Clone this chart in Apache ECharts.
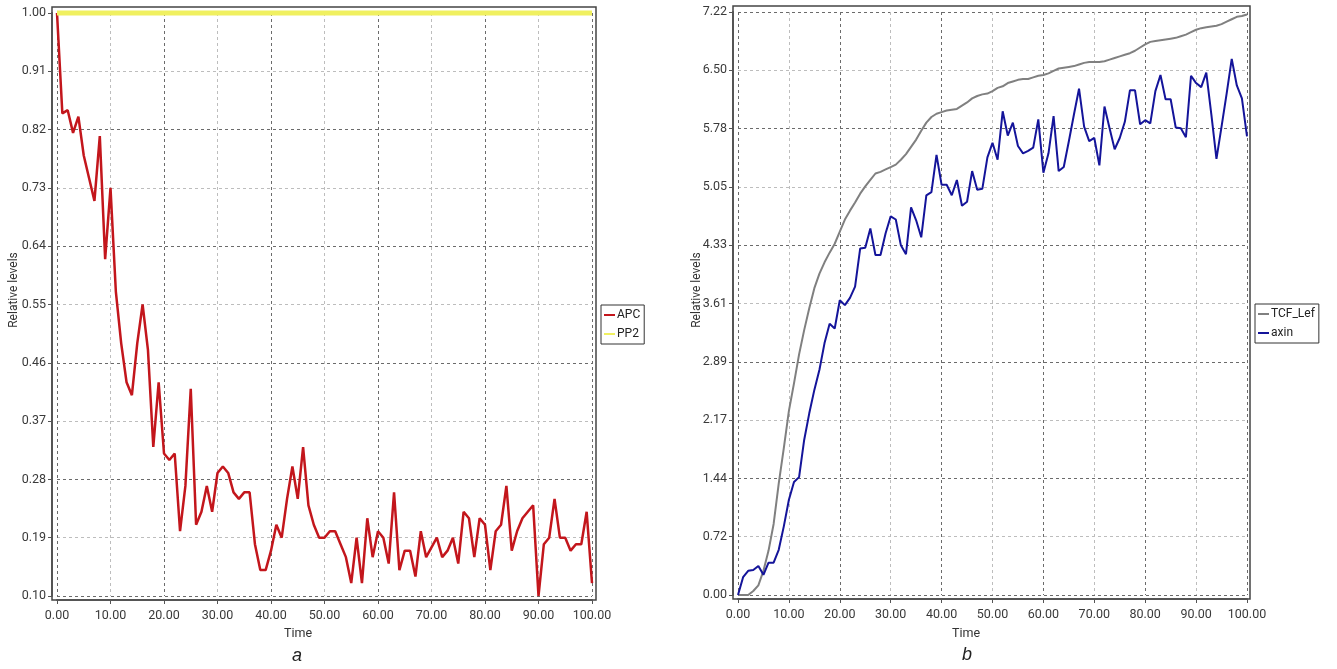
<!DOCTYPE html>
<html>
<head>
<meta charset="utf-8">
<script src="https://cdn.jsdelivr.net/npm/echarts@6/dist/echarts.min.js"></script>
<style>
html, body { margin: 0; padding: 0; background: #fff; }
#chart { width: 1337px; height: 669px; }
</style>
</head>
<body>
<div id="chart"></div>
<script>
// time steps 0..100 (one sample per time unit)
var timeSteps = [];
for (var i = 0; i <= 100; i++) timeSteps.push(i);

// panel a
var apcValues = [1.00, 0.845, 0.85, 0.815, 0.84, 0.78, 0.745, 0.71, 0.81, 0.62,
  0.73, 0.57, 0.49, 0.43, 0.41, 0.49, 0.55, 0.48, 0.33, 0.43,
  0.32, 0.31, 0.32, 0.20, 0.27, 0.42, 0.21, 0.23, 0.27, 0.23,
  0.29, 0.30, 0.29, 0.26, 0.25, 0.26, 0.26, 0.18, 0.14, 0.14,
  0.17, 0.21, 0.19, 0.25, 0.30, 0.25, 0.33, 0.24, 0.21, 0.19,
  0.19, 0.20, 0.20, 0.18, 0.16, 0.12, 0.19, 0.12, 0.22, 0.16,
  0.20, 0.19, 0.15, 0.26, 0.14, 0.17, 0.17, 0.13, 0.20, 0.16,
  0.175, 0.19, 0.16, 0.17, 0.19, 0.15, 0.23, 0.22, 0.16, 0.22,
  0.21, 0.14, 0.20, 0.21, 0.27, 0.17, 0.20, 0.22, 0.23, 0.24,
  0.10, 0.18, 0.19, 0.25, 0.19, 0.19, 0.17, 0.18, 0.18, 0.23,
  0.12];
var pp2Times = [0, 100];
var pp2Values = [1.00, 1.00];

// panel b
var tcfValues = [0, 0, 0, 0.05, 0.12, 0.3, 0.55, 0.88, 1.38, 1.82,
  2.28, 2.62, 2.98, 3.28, 3.55, 3.8, 3.98, 4.12, 4.24, 4.35,
  4.5, 4.65, 4.76, 4.86, 4.97, 5.06, 5.14, 5.22, 5.24, 5.27,
  5.3, 5.33, 5.39, 5.46, 5.55, 5.64, 5.75, 5.85, 5.92, 5.96,
  5.98, 6.0, 6.01, 6.02, 6.06, 6.1, 6.15, 6.18, 6.2, 6.21,
  6.24, 6.28, 6.3, 6.34, 6.36, 6.38, 6.39, 6.39, 6.41, 6.43,
  6.44, 6.46, 6.49, 6.52, 6.53, 6.54, 6.55, 6.57, 6.59, 6.6,
  6.6, 6.6, 6.61, 6.63, 6.65, 6.67, 6.69, 6.71, 6.74, 6.78,
  6.82, 6.85, 6.86, 6.87, 6.88, 6.89, 6.9, 6.92, 6.94, 6.97,
  7.0, 7.02, 7.03, 7.04, 7.05, 7.07, 7.1, 7.13, 7.16, 7.17,
  7.19];
var axinValues = [0, 0.22, 0.30, 0.31, 0.36, 0.25, 0.40, 0.40, 0.56, 0.85,
  1.18, 1.40, 1.46, 1.92, 2.25, 2.54, 2.79, 3.12, 3.36, 3.30,
  3.65, 3.59, 3.68, 3.82, 4.29, 4.30, 4.54, 4.21, 4.21, 4.48,
  4.69, 4.65, 4.33, 4.22, 4.80, 4.64, 4.43, 4.95, 4.99, 5.45,
  5.08, 5.08, 4.95, 5.14, 4.82, 4.87, 5.25, 5.02, 5.03, 5.42,
  5.60, 5.39, 5.99, 5.69, 5.85, 5.56, 5.47, 5.50, 5.54, 5.89,
  5.23, 5.47, 5.93, 5.25, 5.30, 5.62, 5.95, 6.27, 5.80, 5.62,
  5.66, 5.32, 6.05, 5.78, 5.52, 5.66, 5.86, 6.25, 6.25, 5.83,
  5.88, 5.84, 6.24, 6.44, 6.14, 6.14, 5.79, 5.78, 5.67, 6.43,
  6.34, 6.29, 6.47, 5.95, 5.40, 5.80, 6.21, 6.64, 6.31, 6.15,
  5.68];

function pairs(xs, ys) {
  return ys.map(function (v, k) { return [xs[k], v]; });
}

var font = 'Roboto';
var labelStyle = { fontFamily: font, fontSize: 12.5, color: '#3a3a3a' };
var darkGrid = '#6b6b6b';
var lightGrid = '#bdbdbd';

function dataXAxis(gridIndex) {
  return {
    type: 'value', gridIndex: gridIndex, min: 0, max: 100, interval: 10, offset: 4,
    axisLine: { show: true, onZero: false, lineStyle: { color: '#555', width: 2 } },
    axisTick: { show: true, length: 4, lineStyle: { color: '#555' } },
    axisLabel: Object.assign({ margin: 9, formatter: function (v) { return v.toFixed(2); } }, labelStyle),
    splitLine: { show: true, lineStyle: { type: [3, 3], width: 1, color: [darkGrid, lightGrid] } }
  };
}
function dataYAxis(gridIndex, min, max, interval) {
  return {
    type: 'value', gridIndex: gridIndex, min: min, max: max, interval: interval, offset: 5,
    axisLine: { show: true, onZero: false, lineStyle: { color: '#555', width: 2 } },
    axisTick: { show: true, length: 4, lineStyle: { color: '#555' } },
    axisLabel: Object.assign({ margin: 6, formatter: function (v) { return v.toFixed(2); } }, labelStyle),
    splitLine: { show: true, lineStyle: { type: [3, 3], width: 1, color: [darkGrid, lightGrid] } }
  };
}
function hiddenAxis(gridIndex) {
  return { type: 'value', gridIndex: gridIndex, show: false, min: 0, max: 1, splitLine: { show: false } };
}

var legendBase = {
  orient: 'vertical', icon: 'rect', itemWidth: 11, itemHeight: 2, itemGap: 7,
  padding: [4, 4, 4, 3], borderColor: '#333', borderWidth: 1, selectedMode: false,
  textStyle: { fontFamily: font, fontSize: 12, color: '#222', padding: [0, 0, 0, -3] }
};

var chart = echarts.init(document.getElementById('chart'));
chart.setOption({
  animation: false,
  backgroundColor: '#fff',
  grid: [
    { left: 52, top: 7, right: 741, bottom: 69, show: true, borderColor: '#444', borderWidth: 1.5, backgroundColor: 'transparent' },
    { left: 57, top: 13, right: 745, bottom: 73 },
    { left: 733, top: 6, right: 87, bottom: 70, show: true, borderColor: '#444', borderWidth: 1.5, backgroundColor: 'transparent' },
    { left: 738, top: 12, right: 90, bottom: 74 }
  ],
  xAxis: [hiddenAxis(0), dataXAxis(1), hiddenAxis(2), dataXAxis(3)],
  yAxis: [hiddenAxis(0), dataYAxis(1, 0.10, 1.00, 0.09), hiddenAxis(2), dataYAxis(3, 0, 7.22, 0.722)],
  legend: [
    Object.assign({ left: 601, top: 305, data: ['APC', 'PP2'] }, legendBase),
    Object.assign({ left: 1255, top: 304, data: ['TCF_Lef', 'axin'] }, legendBase)
  ],
  graphic: [
    { type: 'text', x: 14, y: 290, rotation: Math.PI / 2, style: { text: 'Relative levels', fontFamily: font, fontSize: 12, fill: '#333', align: 'center', verticalAlign: 'middle' } },
    { type: 'text', x: 697, y: 290, rotation: Math.PI / 2, style: { text: 'Relative levels', fontFamily: font, fontSize: 12, fill: '#333', align: 'center', verticalAlign: 'middle' } },
    { type: 'text', x: 298, y: 634, style: { text: 'Time', fontFamily: font, fontSize: 12.5, fill: '#333', align: 'center', verticalAlign: 'middle' } },
    { type: 'text', x: 966, y: 634, style: { text: 'Time', fontFamily: font, fontSize: 12.5, fill: '#333', align: 'center', verticalAlign: 'middle' } },
    { type: 'text', x: 297, y: 656, style: { text: 'a', fontFamily: 'Liberation Sans', fontStyle: 'italic', fontSize: 18, fill: '#222', align: 'center', verticalAlign: 'middle' } },
    { type: 'text', x: 967, y: 655, style: { text: 'b', fontFamily: 'Liberation Sans', fontStyle: 'italic', fontSize: 18, fill: '#222', align: 'center', verticalAlign: 'middle' } }
  ],
  series: [
    { name: 'APC', type: 'line', xAxisIndex: 1, yAxisIndex: 1, data: pairs(timeSteps, apcValues),
      showSymbol: false, symbol: 'none', clip: false, color: '#c3161c', lineStyle: { width: 2.5, color: '#c3161c' }, z: 3 },
    { name: 'PP2', type: 'line', xAxisIndex: 1, yAxisIndex: 1, data: pairs(pp2Times, pp2Values),
      showSymbol: false, symbol: 'none', clip: false, color: '#f0f060', lineStyle: { width: 5, color: '#f0f060' }, z: 4 },
    { name: 'TCF_Lef', type: 'line', xAxisIndex: 3, yAxisIndex: 3, data: pairs(timeSteps, tcfValues),
      showSymbol: false, symbol: 'none', clip: false, color: '#808080', lineStyle: { width: 2, color: '#808080' }, z: 3 },
    { name: 'axin', type: 'line', xAxisIndex: 3, yAxisIndex: 3, data: pairs(timeSteps, axinValues),
      showSymbol: false, symbol: 'none', clip: false, color: '#14149a', lineStyle: { width: 2, color: '#14149a' }, z: 4 }
  ]
});
</script>
</body>
</html>
